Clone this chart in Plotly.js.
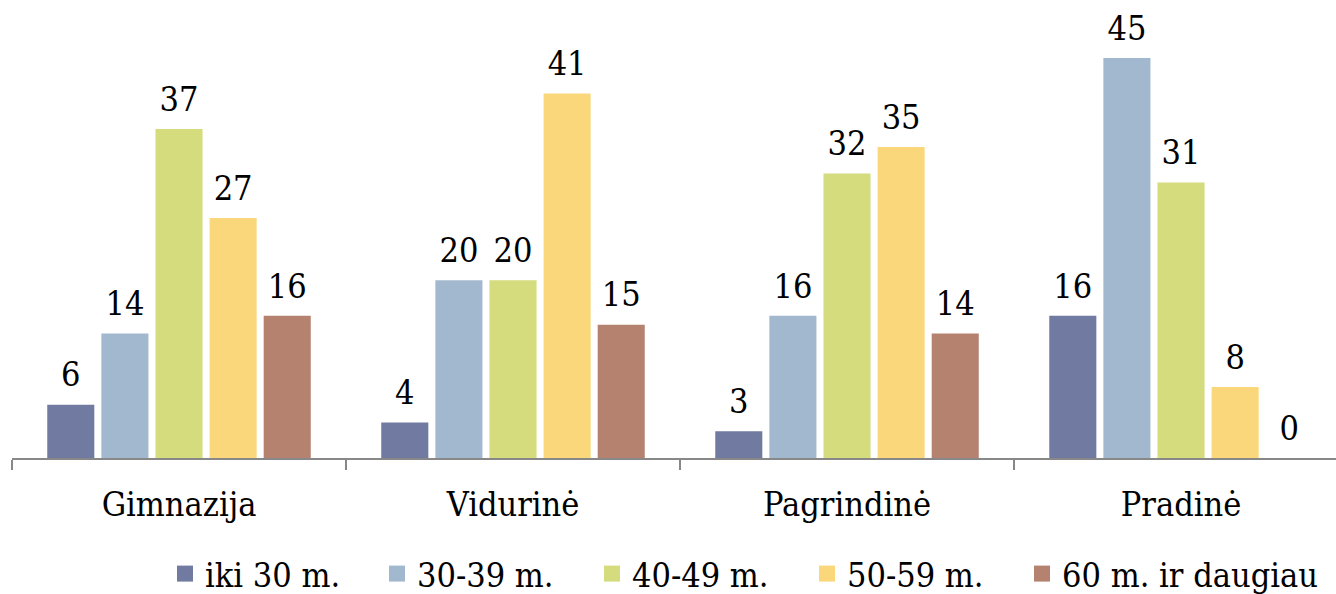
<!DOCTYPE html>
<html>
<head>
<meta charset="utf-8">
<script src="https://cdn.plot.ly/plotly-3.0.1.min.js"></script>
<style>html,body{margin:0;padding:0;background:#fff;}#chart{width:1336px;height:594px;}</style>
</head>
<body>
<div id="chart"></div>
<script>
var categories = ["Gimnazija", "Vidurinė", "Pagrindinė", "Pradinė"];
var seriesNames = ["iki 30 m.", "30-39 m.", "40-49 m.", "50-59 m.", "60 m. ir daugiau"];
var iki30 = [6, 4, 3, 16];
var m30_39 = [14, 20, 16, 45];
var m40_49 = [37, 20, 32, 31];
var m50_59 = [27, 41, 35, 8];
var m60plus = [16, 15, 14, 0];
var seriesColors = ["#717AA0", "#A2B8CF", "#D4DC7E", "#F9D77A", "#B5826F"];

var seriesValues = [iki30, m30_39, m40_49, m50_59, m60plus];
var FONT = "'DejaVu Serif Condensed', 'DejaVu Serif', serif";
var legendIds = ["legend", "legend2", "legend3", "legend4", "legend5"];
var legendX = [165, 377, 592, 807, 1022];

var traces = [];
seriesValues.forEach(function (vals, i) {
  traces.push({
    type: "bar",
    name: seriesNames[i],
    x: categories,
    y: vals,
    marker: { color: seriesColors[i] },
    offsetgroup: "g" + i,
    showlegend: false,
    hoverinfo: "none"
  });
});
seriesValues.forEach(function (vals, i) {
  traces.push({
    type: "scatter",
    mode: "markers+text",
    x: categories,
    y: vals,
    text: vals.map(String),
    textposition: "top center",
    textfont: { family: FONT, size: 34, color: "#000" },
    marker: { size: 14, opacity: 0 },
    offsetgroup: "g" + i,
    showlegend: false,
    hoverinfo: "none"
  });
});
seriesNames.forEach(function (nm, i) {
  traces.push({
    type: "scatter",
    mode: "markers",
    name: nm,
    x: [null],
    y: [null],
    marker: { symbol: "square", size: 16, color: seriesColors[i] },
    offsetgroup: "g" + i,
    legend: legendIds[i],
    showlegend: true,
    hoverinfo: "none"
  });
});

var layout = {
  width: 1336,
  height: 594,
  margin: { l: 12, r: 0, t: 14, b: 136, autoexpand: false },
  paper_bgcolor: "#fff",
  plot_bgcolor: "#fff",
  barmode: "group",
  bargap: 0.19,
  bargroupgap: 0.13,
  scattermode: "group",
  scattergap: 0.19,
  font: { family: FONT, size: 34, color: "#000" },
  xaxis: {
    type: "category",
    range: [-0.5, 3.464],
    automargin: false,
    showline: true,
    linecolor: "#888888",
    linewidth: 2,
    ticks: "outside",
    tickson: "boundaries",
    ticklen: 10,
    tickwidth: 2,
    tickcolor: "#888888",
    ticklabelstandoff: 15,
    showgrid: false,
    zeroline: false,
    tickfont: { family: FONT, size: 34, color: "#000" }
  },
  yaxis: {
    visible: false,
    automargin: false,
    range: [0, 49.95],
    showgrid: false,
    zeroline: false
  }
};
legendIds.forEach(function (id, i) {
  layout[id] = {
    orientation: "h",
    xref: "container",
    yref: "container",
    x: legendX[i] / 1336,
    xanchor: "left",
    y: 20 / 594,
    yanchor: "middle",
    font: { family: FONT, size: 34, color: "#000" },
    bgcolor: "rgba(0,0,0,0)",
    borderwidth: 0
  };
});

Plotly.newPlot("chart", traces, layout, { staticPlot: true, displayModeBar: false });
</script>
</body>
</html>
